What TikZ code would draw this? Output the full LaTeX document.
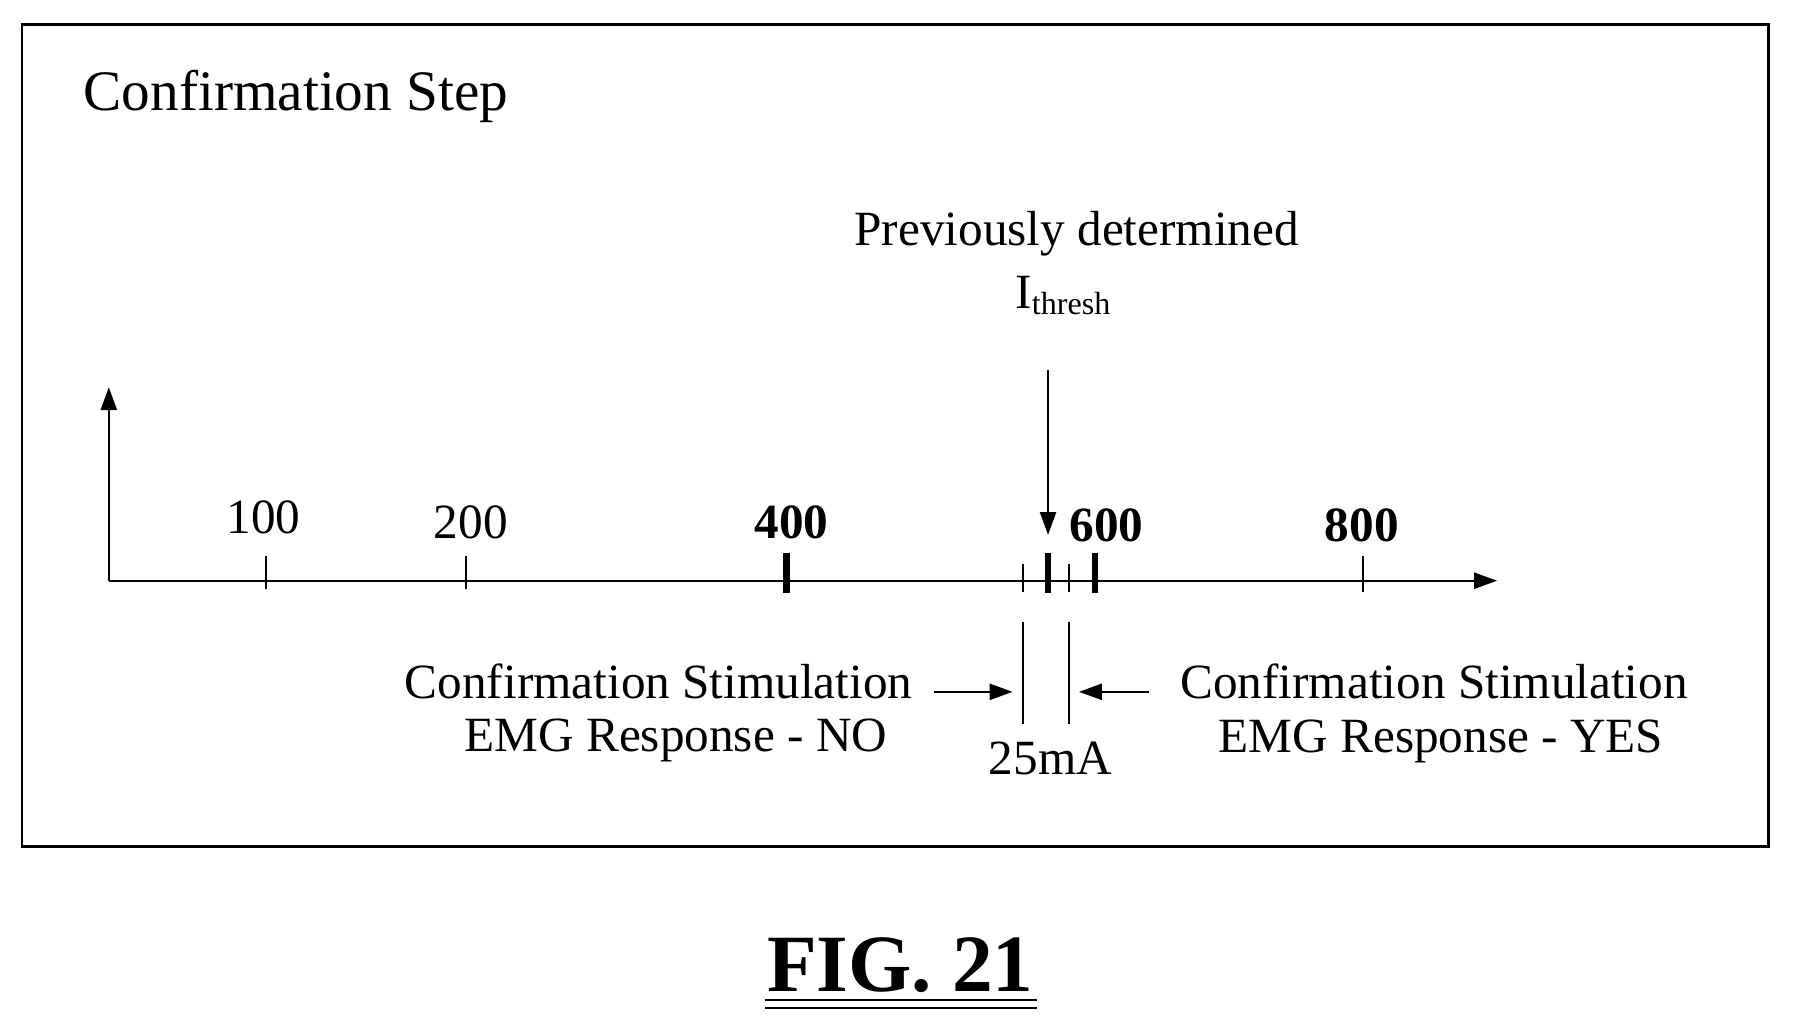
\documentclass[tikz,border=0pt]{standalone}
\usepackage{fontspec}
\setmainfont{Liberation Serif}
\usetikzlibrary{arrows.meta}
\begin{document}
\begin{tikzpicture}[x=1pt,y=-1pt,line width=2pt,
  lbl/.style={inner sep=0pt,font=\fontsize{43}{48}\selectfont},
  tk/.style={line width=2pt},
  tkb/.style={line width=6pt},
  arr/.style={-{Triangle[length=20pt,width=14pt]}}]
\useasboundingbox (0,0) rectangle (1568,900);
\node[draw,line width=2.5pt,minimum width=1525pt,minimum height=718pt,anchor=north west,inner sep=0pt] (frame) at (18,20) {};
\node[lbl,font=\fontsize{50}{56}\selectfont,anchor=west] (title) at (72,84) {Confirmation Step};
\coordinate (o) at (95,507);
\coordinate (yt) at (95,338);
\coordinate (xt) at (1307,507);
\draw[arr] (o) -- (yt);
\draw[arr] (o) -- (xt);
\draw[tk] (232,485) -- (232,514);
\draw[tk] (407,485) -- (407,514);
\draw[tkb] (687,483) -- (687,518);
\draw[tkb] (956,483) -- (956,518);
\draw[tk] (1190,485) -- (1190,517);
\draw[tk] (893,492) -- (893,517);
\draw[tkb] (915,483) -- (915,518);
\draw[tk] (933,492) -- (933,517);
\node[lbl] (l100) at (230,452) {100};
\node[lbl] (l200) at (411,456) {200};
\node[lbl,font=\bfseries\fontsize{43}{48}\selectfont] (l400) at (691,456) {400};
\node[lbl,font=\bfseries\fontsize{43}{48}\selectfont] (l600) at (966,459) {600};
\node[lbl,font=\bfseries\fontsize{43}{48}\selectfont] (l800) at (1189,459) {800};
\node[lbl] (prev) at (940,204) {Previously determined};
\node[lbl] (ith) at (928,258) {I\raisebox{-0.3ex}{\fontsize{28}{30}\selectfont thresh}};
\coordinate (da) at (915,323);
\coordinate (db) at (915,467);
\draw[arr] (da) -- (db);
\draw (893,543) -- (893,632);
\draw (933,543) -- (933,632);
\coordinate (la) at (815,604);
\coordinate (lb) at (884,604);
\coordinate (ra) at (1003,604);
\coordinate (rb) at (942,604);
\draw[arr] (la) -- (lb);
\draw[arr] (ra) -- (rb);
\node[lbl] (cl1) at (575,595) {Confirmation Stimulation};
\node[lbl] (cl2) at (590,646) {EMG Response - NO};
\node[lbl] (cr1) at (1252,595) {Confirmation Stimulation};
\node[lbl] (cr2) at (1258,647) {EMG Response - YES};
\node[lbl] (ma) at (917,662) {25mA};
\node[lbl,font=\bfseries\fontsize{71}{76}\selectfont] (fig) at (786,843) {FIG. 21};
\draw[line width=2pt] (668,873) -- (905,873);
\draw[line width=2pt] (668,880) -- (905,880);
\end{tikzpicture}
\end{document}
